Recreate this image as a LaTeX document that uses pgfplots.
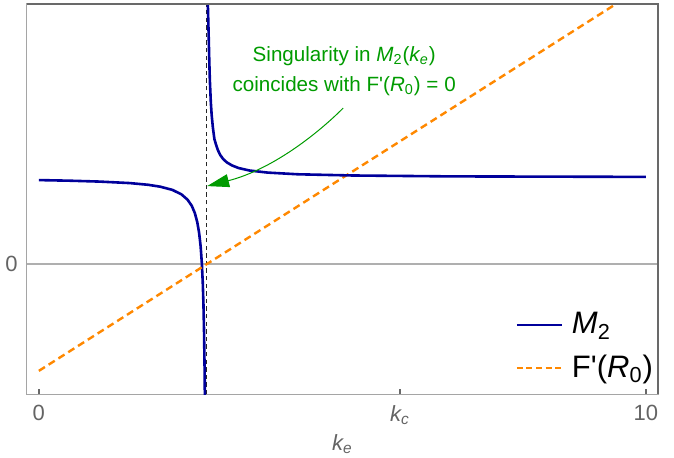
\documentclass[border=0pt]{standalone}
\usepackage{pgfplots}
\pgfplotsset{compat=1.18}
\usepackage{fontspec}
\setmainfont{Liberation Sans}
\usetikzlibrary{arrows.meta,calc}

\definecolor{mblue}{RGB}{0,0,155}
\definecolor{morange}{RGB}{255,136,0}
\definecolor{mgreen}{RGB}{0,155,0}
\definecolor{framegray}{RGB}{165,165,165}
\definecolor{darkframe}{RGB}{105,105,105}
\definecolor{labelgray}{RGB}{100,100,100}
\definecolor{zerogray}{RGB}{175,175,175}

\begin{document}
\begin{tikzpicture}
\begin{axis}[
  scale only axis,
  width=315.5pt, height=195.15pt,
  xmin=-0.2, xmax=10.2,
  ymin=-1.303, ymax=2.60,
  axis line style={framegray, line width=0.7pt},
  xtick={0,5.95,10},
  xticklabels={0,\textit{k\textsubscript{c}},10},
  ytick={0}, yticklabels={0},
  tick align=inside, xtick pos=bottom, ytick pos=left,
  major tick length=2.5pt,
  tick style={darkframe, line width=0.8pt},
  tick label style={font=\fontsize{11}{13}\selectfont, text=labelgray},
  xticklabel style={yshift=-2pt},
  yticklabel style={xshift=-1pt},
  xlabel={\textit{k\textsubscript{e}}},
  xlabel style={font=\fontsize{11}{13}\selectfont, text=labelgray, yshift=2pt},
  legend style={draw=none, fill=none, at={(axis cs:7.85,-0.44)}, anchor=north west,
    font=\fontsize{15.5}{17}\selectfont, row sep=5pt, column sep=2.5pt, inner sep=0pt},
  legend cell align=left,
]
% zero line
\addplot[zerogray, line width=0.9pt, forget plot] coordinates {(-0.2,0) (10.2,0)};
% singular line
\addplot[black!85, line width=0.5pt, dash pattern=on 2.2pt off 1.6pt, forget plot]
  coordinates {(2.767,-1.303) (2.767,2.60)};

% M2, left branch
\addplot[mblue, line width=1.3pt,
  legend image code/.code={\draw[mblue, line width=1.1pt] (0pt,0pt) -- (22.5pt,0pt);}]
  coordinates {
  (0,0.840) (0.5,0.834) (1.0,0.825) (1.5,0.810) (1.8,0.793) (2.0,0.774)
  (2.2,0.742) (2.35,0.697) (2.45,0.644) (2.52,0.582) (2.57,0.510) (2.61,0.419)
  (2.64,0.314) (2.665,0.179) (2.685,0.011) (2.70,-0.180) (2.712,-0.408)
  (2.722,-0.691) (2.73,-1.027) (2.735,-1.323) (2.74,-1.73)
  };
\addlegendentry{\textit{M}\textsubscript{2}}

% F'(R0)
\addplot[morange, line width=1.2pt, dash pattern=on 3.6pt off 2.2pt,
  legend image code/.code={\draw[morange, line width=1.1pt, dash pattern=on 3pt off 1.8pt] (0pt,0pt) -- (22.5pt,0pt);}]
  coordinates {(0,-1.067) (10,2.79)};
\addlegendentry{F\textquotesingle(\textit{R}\textsubscript{0})}

% M2, right branch
\addplot[mblue, line width=1.3pt, forget plot]
  coordinates {
  (2.780,2.8) (2.784,2.60) (2.797,2.30) (2.807,2.05) (2.817,1.84) (2.833,1.62)
  (2.847,1.49) (2.867,1.365) (2.892,1.25) (2.917,1.198) (2.947,1.143)
  (2.987,1.092) (3.037,1.05) (3.097,1.017) (3.177,0.988) (3.287,0.961)
  (3.467,0.936) (3.767,0.915) (4.267,0.898) (5.167,0.886) (6.767,0.877) (10,0.872)
  };

% annotation
\node[mgreen, anchor=base, font=\fontsize{10.3}{12}\selectfont] at (axis cs:5.03,2.023)
  {Singularity in \textit{M}\textsubscript{2}(\textit{k\textsubscript{e}})};
\node[mgreen, anchor=base, font=\fontsize{10.3}{12}\selectfont] at (axis cs:5.03,1.723)
  {coincides with F\textquotesingle(\textit{R}\textsubscript{0}) = 0};
\draw[mgreen, line width=0.5pt, -{Triangle[length=11pt, width=6.5pt]}]
  (axis cs:5.014,1.56) .. controls (axis cs:4.553,1.28) and (axis cs:3.811,0.94) .. (axis cs:2.772,0.78);
\end{axis}
\draw[darkframe, line width=0.7pt] (current axis.north west) -- (current axis.north east) -- (current axis.south east);
\pgfresetboundingbox
\path ($(current axis.south west)+(-13.35pt,-31.35pt)$) rectangle ($(current axis.north east)+(8pt,2pt)$);
\end{tikzpicture}
\end{document}
